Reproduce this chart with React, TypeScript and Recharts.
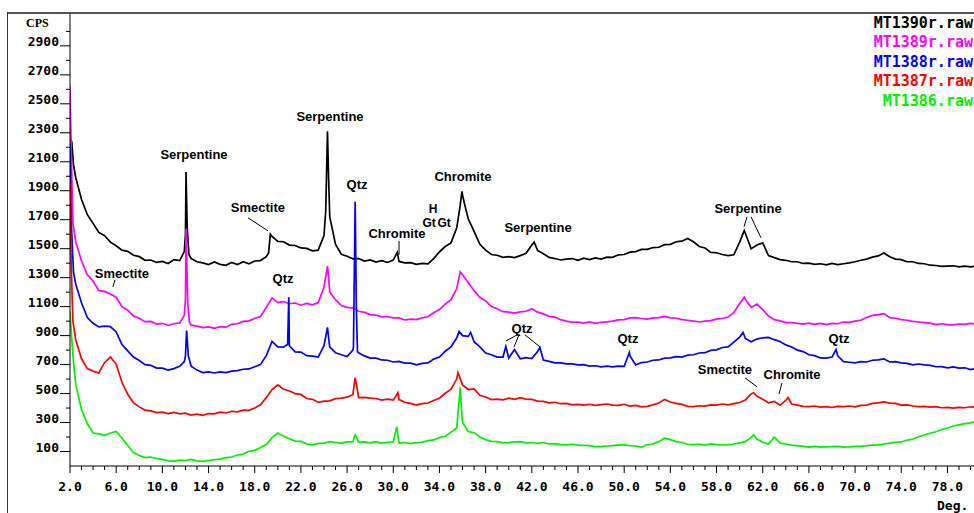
import { LineChart, Line, XAxis, YAxis, ReferenceDot, ReferenceLine } from 'recharts'

// scan grid: 2.0 .. 80.0 deg in 0.5 deg steps
const START = 2
const STEP = 0.5

const mt1390 = [
  2260, 1990, 1840, 1735, 1675, 1612, 1590, 1545, 1520, 1490,
  1482, 1455, 1445, 1420, 1422, 1405, 1412, 1398, 1425, 1418,
  1600, 1432, 1410, 1402, 1390, 1408, 1392, 1385, 1405, 1390,
  1410, 1396, 1415, 1418, 1445, 1585, 1550, 1548, 1525, 1522,
  1505, 1502, 1485, 1490, 1590, 1720, 1530, 1462, 1448, 1430,
  1432, 1415, 1422, 1408, 1418, 1405, 1422, 1412, 1402, 1404,
  1392, 1398, 1396, 1432, 1478, 1515, 1540, 1645, 1870, 1705,
  1620, 1530, 1490, 1460, 1455, 1440, 1445, 1438, 1452, 1468,
  1525, 1488, 1465, 1440, 1432, 1422, 1428, 1432, 1420, 1434,
  1425, 1436, 1428, 1442, 1440, 1458, 1460, 1476, 1480, 1495,
  1495, 1508, 1510, 1528, 1530, 1548, 1552, 1570, 1548, 1515,
  1505, 1475, 1472, 1460, 1452, 1458, 1545, 1605, 1500, 1525,
  1540, 1452, 1438, 1425, 1420, 1410, 1410, 1398, 1400, 1392,
  1396, 1388, 1398, 1390, 1396, 1402, 1410, 1420, 1428, 1442,
  1450, 1470, 1445, 1428, 1424, 1410, 1410, 1398, 1396, 1386,
  1384, 1378, 1380, 1382, 1374, 1380, 1375,
]
const mt1390Peaks = [
  [2.15, 2240], [2.3, 2080], [11.9, 1480], [12.05, 2030], [12.15, 1650], [12.3, 1460],
  [19.2, 1470], [19.35, 1600], [24.15, 1760], [24.3, 2310], [24.4, 1980], [30.35, 1475],
  [35.8, 1800], [35.95, 1895], [36.2, 1800], [42.2, 1545], [60.4, 1625], [80.3, 1378],
]

const mt1389 = [
  2620, 1545, 1415, 1320, 1275, 1210, 1205, 1188, 1165, 1100,
  1075, 1035, 1020, 996, 998, 980, 985, 970, 982, 988,
  1150, 972, 965, 955, 960, 950, 962, 958, 978, 982,
  998, 1002, 1018, 1032, 1095, 1160, 1128, 1135, 1120, 1125,
  1110, 1122, 1112, 1128, 1235, 1200, 1148, 1108, 1095, 1092,
  1068, 1060, 1045, 1042, 1030, 1032, 1022, 1022, 1008, 1014,
  1010, 1022, 1030, 1058, 1080, 1118, 1148, 1225, 1320, 1265,
  1210, 1165, 1140, 1100, 1085, 1065, 1062, 1055, 1064, 1068,
  1085, 1062, 1050, 1032, 1028, 1010, 1000, 992, 994, 986,
  995, 985, 992, 995, 1000, 1008, 1010, 1022, 1024, 1018,
  1014, 1022, 1024, 1032, 1022, 1020, 1010, 1006, 1000, 994,
  1000, 1004, 1014, 1018, 1028, 1060, 1120, 1150, 1095, 1118,
  1080, 1035, 1010, 1002, 990, 990, 984, 980, 986, 978,
  984, 976, 984, 982, 994, 992, 1000, 1006, 1025, 1040,
  1045, 1052, 1024, 1020, 1010, 1006, 998, 994, 990, 986,
  976, 982, 976, 974, 980, 978, 985,
]
const mt1389Peaks = [
  [2.1, 2200], [2.25, 1680], [11.9, 1040], [12.05, 1640], [12.2, 1120], [12.35, 990],
  [24.3, 1380], [24.45, 1250], [35.8, 1340], [60.4, 1165], [80.3, 982],
]

const mt1388 = [
  2226, 1255, 1125, 1025, 985, 960, 966, 962, 925, 838,
  795, 752, 728, 700, 695, 676, 675, 662, 672, 688,
  760, 688, 662, 645, 650, 642, 650, 645, 655, 658,
  668, 670, 685, 700, 762, 860, 822, 820, 830, 788,
  786, 762, 758, 752, 830, 820, 782, 768, 755, 800,
  782, 760, 745, 745, 732, 730, 718, 722, 710, 710,
  698, 708, 712, 738, 752, 792, 822, 885, 900, 895,
  858, 822, 780, 768, 752, 752, 745, 804, 740, 748,
  742, 790, 732, 722, 712, 712, 705, 705, 698, 700,
  690, 692, 684, 690, 684, 690, 688, 760, 698, 714,
  718, 730, 732, 745, 746, 755, 752, 765, 768, 780,
  782, 798, 802, 818, 822, 855, 890, 880, 858, 876,
  885, 888, 872, 860, 836, 822, 800, 790, 768, 762,
  746, 745, 752, 760, 720, 716, 712, 720, 718, 730,
  732, 740, 718, 720, 712, 708, 698, 704, 698, 695,
  685, 686, 678, 684, 676, 678, 666,
]
const mt1388Peaks = [
  [2.1, 1700], [2.3, 1340], [11.9, 720], [12.1, 935], [12.25, 760], [20.85, 840], [20.95, 1165],
  [24.3, 957], [24.45, 850], [26.55, 820], [26.7, 1824], [26.8, 1100], [26.9, 790],
  [35.7, 929], [36.7, 922], [39.75, 825], [42.7, 818], [50.45, 784], [60.3, 922],
  [68.35, 804], [80.3, 670],
]

const mt1387 = [
  1963, 870, 740, 672, 655, 642, 715, 752, 702, 578,
  495, 436, 408, 386, 380, 368, 372, 362, 370, 360,
  365, 352, 358, 350, 362, 360, 372, 366, 378, 374,
  386, 384, 400, 422, 472, 528, 560, 530, 518, 500,
  494, 466, 460, 440, 448, 450, 465, 468, 475, 492,
  472, 474, 468, 466, 455, 462, 455, 458, 440, 432,
  420, 430, 435, 452, 468, 502, 528, 602, 560, 528,
  532, 488, 476, 458, 462, 456, 468, 460, 472, 462,
  460, 448, 446, 436, 440, 430, 432, 422, 426, 420,
  426, 418, 424, 428, 420, 418, 426, 414, 418, 408,
  412, 422, 435, 460, 442, 432, 425, 412, 410, 416,
  414, 422, 420, 428, 422, 430, 438, 456, 498, 482,
  460, 436, 446, 420, 452, 428, 420, 412, 410, 414,
  406, 410, 404, 412, 410, 414, 408, 418, 420, 432,
  436, 442, 434, 432, 420, 422, 414, 410, 412, 406,
  410, 402, 404, 400, 405, 402, 409,
]
const mt1387Peaks = [
  [2.1, 1400], [2.25, 1000], [26.7, 610], [30.4, 506], [35.6, 645], [61.2, 506],
  [64.2, 472], [80.3, 406],
]

const mt1386 = [
  1068, 560, 388, 292, 228, 222, 212, 228, 238, 192,
  142, 92, 72, 58, 62, 52, 46, 36, 34, 40,
  38, 45, 36, 32, 38, 44, 48, 58, 62, 76,
  82, 102, 108, 128, 148, 196, 228, 205, 188, 172,
  170, 152, 148, 154, 158, 168, 162, 158, 166, 168,
  164, 166, 160, 168, 158, 164, 166, 158, 162, 155,
  162, 164, 175, 180, 196, 205, 234, 262, 300, 238,
  230, 200, 182, 170, 168, 160, 162, 166, 168, 160,
  162, 156, 162, 152, 155, 148, 146, 150, 144, 142,
  140, 134, 134, 138, 140, 144, 148, 140, 138, 130,
  148, 152, 168, 192, 182, 168, 162, 150, 148, 150,
  144, 152, 148, 145, 148, 152, 160, 168, 198, 186,
  164, 152, 200, 158, 152, 144, 140, 136, 130, 136,
  130, 132, 134, 136, 130, 132, 136, 135, 140, 144,
  146, 152, 158, 164, 166, 178, 186, 202, 214, 226,
  236, 252, 262, 276, 284, 292, 298,
]
const mt1386Peaks = [
  [2.15, 880], [2.3, 720], [26.7, 215], [30.3, 270], [35.8, 541], [35.9, 400],
  [61.2, 215], [80.3, 305],
]

// drawn in this order, the legend lists them the same way
const series = [
  { name: 'MT1390r.raw', color: '#000000', values: mt1390, peaks: mt1390Peaks },
  { name: 'MT1389r.raw', color: '#ff00ff', values: mt1389, peaks: mt1389Peaks },
  { name: 'MT1388r.raw', color: '#0000ff', values: mt1388, peaks: mt1388Peaks },
  { name: 'MT1387r.raw', color: '#ff0000', values: mt1387, peaks: mt1387Peaks },
  { name: 'MT1386.raw', color: '#00ee00', values: mt1386, peaks: mt1386Peaks },
]

const labels = [
  { text: 'Serpentine', x: 12.74, y: 2148, size: 13 },
  { text: 'Serpentine', x: 24.52, y: 2410, size: 13 },
  { text: 'Smectite', x: 18.28, y: 1782, size: 13 },
  { text: 'Qtz', x: 26.86, y: 1941, size: 13 },
  { text: 'Chromite', x: 30.32, y: 1609, size: 13 },
  { text: 'H', x: 33.44, y: 1774, size: 12 },
  { text: 'Gt', x: 33.1, y: 1677, size: 12 },
  { text: 'Gt', x: 34.4, y: 1677, size: 12 },
  { text: 'Chromite', x: 36.04, y: 1996, size: 13 },
  { text: 'Serpentine', x: 42.54, y: 1644, size: 13 },
  { text: 'Serpentine', x: 60.73, y: 1775, size: 13 },
  { text: 'Smectite', x: 6.5, y: 1333, size: 13 },
  { text: 'Qtz', x: 20.45, y: 1298, size: 13 },
  { text: 'Qtz', x: 41.15, y: 953, size: 13 },
  { text: 'Qtz', x: 50.33, y: 884, size: 13 },
  { text: 'Qtz', x: 68.61, y: 884, size: 13 },
  { text: 'Smectite', x: 58.73, y: 670, size: 13 },
  { text: 'Chromite', x: 64.54, y: 635, size: 13 },
]

const leaders = [
  [[17.42, 1713], [19.15, 1623]],
  [[30.5, 1554], [30.5, 1457]],
  [[60.64, 1720], [60.38, 1651]],
  [[60.99, 1720], [61.85, 1575]],
  [[5.9, 1285], [5.72, 1236]],
  [[40.72, 905], [39.77, 863]],
  [[40.89, 905], [40.46, 822]],
  [[41.41, 905], [42.71, 822]],
  [[60.47, 608], [61.51, 546]],
  [[63.67, 573], [63.41, 497]],
]

const xTicks = Array.from({ length: 79 }, (_, i) => 2 + i)
const yTicks = Array.from({ length: 30 }, (_, i) => 100 + i * 100)

const mono = '"DejaVu Sans Mono", monospace'
const sans = '"Liberation Sans", Arial, sans-serif'

function toPoints(values: number[], peaks: number[][]) {
  const pts = values.map((y, i) => ({ x: START + i * STEP, y }))
  peaks.forEach(([x, y]) => pts.push({ x, y }))
  return pts.sort((a, b) => a.x - b.x)
}

function XTick({ x, y, payload }: any) {
  const v = payload.value
  const major = (v - 2) % 4 === 0
  return (
    <g>
      <line x1={x} x2={x} y1={y} y2={y + (major ? 7 : 4)} stroke="#000" />
      {major && (
        <text x={x} y={y + 25} textAnchor="middle" fontFamily={mono} fontWeight="bold" fontSize={13} fill="#000">
          {v.toFixed(1)}
        </text>
      )}
    </g>
  )
}

function YTick({ x, y, payload }: any) {
  const v = payload.value
  const labeled = v % 200 === 100
  return (
    <g>
      <line x1={x - (labeled ? 10 : 4)} x2={x} y1={y} y2={y} stroke="#000" />
      {labeled && (
        <text x={x - 11} y={y} textAnchor="end" fontFamily={mono} fontWeight="bold" fontSize={13} fill="#000">
          {v}
        </text>
      )}
    </g>
  )
}

export default function App() {
  return (
    <div style={{ position: 'fixed', left: 0, top: 0, width: 974, height: 513, background: '#fff', overflow: 'hidden' }}>
      <LineChart width={974} height={513} margin={{ top: 14, right: 0, bottom: 0, left: 8 }}>
        <XAxis
          type="number"
          dataKey="x"
          domain={[2, 80.3]}
          ticks={xTicks}
          interval={0}
          height={47}
          tickSize={0}
          tickMargin={0}
          tickLine={false}
          axisLine={{ stroke: '#000' }}
          tick={<XTick />}
          allowDataOverflow
        />
        <YAxis
          type="number"
          domain={[0, 3120]}
          ticks={yTicks}
          interval={0}
          width={62}
          tickSize={0}
          tickMargin={0}
          tickLine={false}
          axisLine={{ stroke: '#000' }}
          tick={<YTick />}
          allowDataOverflow
        />
        {series.map((s) => (
          <Line
            key={s.name}
            data={toPoints(s.values, s.peaks)}
            dataKey="y"
            type="linear"
            stroke={s.color}
            strokeWidth={1.7}
            dot={false}
            isAnimationActive={false}
          />
        ))}
        {leaders.map(([a, b], i) => (
          <ReferenceLine
            key={'l' + i}
            segment={[{ x: a[0], y: a[1] }, { x: b[0], y: b[1] }]}
            stroke="#000"
            strokeWidth={1}
          />
        ))}
        {labels.map((l, i) => (
          <ReferenceDot
            key={'t' + i}
            x={l.x}
            y={l.y}
            r={0}
            fill="none"
            stroke="none"
            label={{ value: l.text, position: 'center', fill: '#000', fontSize: l.size, fontWeight: 'bold', fontFamily: sans }}
          />
        ))}
      </LineChart>
      <svg width={974} height={513} style={{ position: 'absolute', left: 0, top: 0, pointerEvents: 'none' }}>
        <line x1={7} x2={974} y1={13} y2={13} stroke="#555" strokeWidth={2} />
        <line x1={7.5} x2={7.5} y1={12} y2={513} stroke="#333" strokeWidth={1} />
        <text x={26} y={27} fontFamily='"Liberation Serif", serif' fontWeight="bold" fontSize={12} fill="#000">CPS</text>
        <text x={937} y={510} fontFamily={mono} fontWeight="bold" fontSize={13} fill="#000">Deg.</text>
        {series.map((s, i) => (
          <text key={s.name} x={973} y={28 + i * 19.4} textAnchor="end" fontFamily={mono} fontWeight="bold" fontSize={15} fill={s.color}>
            {s.name}
          </text>
        ))}
      </svg>
    </div>
  )
}
